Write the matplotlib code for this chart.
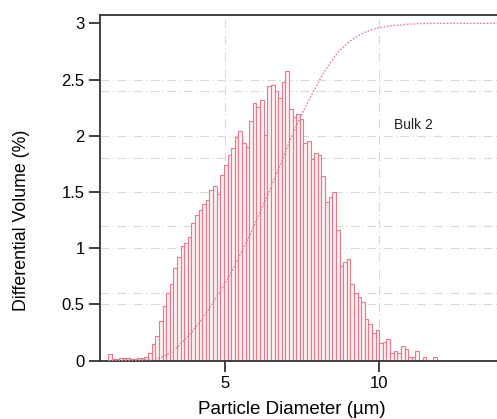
import numpy as np
import matplotlib
matplotlib.use("Agg")
import matplotlib.pyplot as plt

plt.rcParams['font.family'] = ['Liberation Sans', 'DejaVu Sans']

# ---- data ----
bin_start = 1.2      # µm, left edge of first channel
bin_width = 0.1173   # µm
diff_volume = [0.06, 0.012, 0.018, 0.02, 0.02, 0.02, 0.018, 0.015, 0.022, 0.028,
               0.035, 0.065, 0.145, 0.22, 0.35, 0.49, 0.60, 0.68, 0.82, 0.92,
               1.02, 1.05, 1.10, 1.22, 1.30, 1.34, 1.39, 1.43, 1.52, 1.55,
               1.48, 1.65, 1.74, 1.83, 1.89, 1.99, 2.04, 1.94, 1.90, 2.13,
               2.29, 2.26, 2.32, 2.01, 2.44, 2.45, 2.40, 2.34, 2.48, 2.58,
               2.24, 2.17, 2.19, 2.15, 1.94, 1.95, 1.79, 1.85, 1.83, 1.64,
               1.41, 1.46, 1.50, 1.16, 0.84, 0.88, 0.90, 0.68, 0.60, 0.57,
               0.52, 0.37, 0.33, 0.25, 0.27, 0.16, 0.17, 0.19, 0.065, 0.09,
               0.07, 0.13, 0.10, 0.03, 0.035, 0.09, 0.01, 0.03, 0.0, 0.0,
               0.035]
cum_full_scale = 3.0   # cumulative 100 % drawn at this height
x_max = 13.82          # upper end of the measured size range shown
x_ticks = [5, 10]
y_ticks = [0, 0.5, 1, 1.5, 2, 2.5, 3]
y_tick_labels = ['0', '0.5', '1', '1.5', '2', '2.5', '3']
grid_left = [0.5, 1, 1.5, 2, 2.5]
grid_right = [0.6, 1.2, 1.8, 2.4]
label_text = "Bulk 2"

# ---- derived ----
vals = np.array(diff_volume)
n = len(vals)
lefts = bin_start + bin_width * np.arange(n)
centers = lefts + bin_width / 2
cum = np.concatenate([[0], np.cumsum(vals)]) / vals.sum() * cum_full_scale
cum_x = np.concatenate([[lefts[0]], lefts + bin_width])
cum = np.append(cum, cum[-1])
cum_x = np.append(cum_x, x_max)

W, H = 497, 419
fig = plt.figure(figsize=(W / 100, H / 100), dpi=100)
ax = fig.add_axes([100 / W, (H - 360.7) / H, 397 / W, (360.7 - 15) / H])

gls = (0, (8, 3, 1, 3))
for g in grid_left + grid_right:
    ax.axhline(g, color='#dadada', lw=0.8, ls=gls, zorder=0)
for g in x_ticks:
    ax.axvline(g, color='#dadada', lw=0.8, ls=gls, zorder=0)

ax.bar(centers, vals, width=bin_width, facecolor='#fdf0f2',
       edgecolor='#e47a8c', linewidth=0.8, zorder=2)
ax.plot(cum_x, cum, color='#e8809a', lw=1.0, ls=(0, (1.2, 1.2)), zorder=3,
        clip_on=True)

ax.text(11.1, 2.10, label_text, fontsize=10, ha='center', va='center', color='#222222')

ax.set_xlim(0.93, x_max)
ax.set_ylim(0, 3.074)
ax.set_xticks(x_ticks)
ax.set_yticks(y_ticks)
ax.set_yticklabels(y_tick_labels)
ax.tick_params(axis='both', direction='out', length=8, width=1.3, color='#333333',
               labelsize=12, pad=3)
for s in ['left', 'bottom', 'top']:
    ax.spines[s].set_color('#333333')
    ax.spines[s].set_linewidth(1.3)
ax.spines['right'].set_visible(False)

fig.text(292 / W, 1 - 409 / H, 'Particle Diameter (µm)', fontsize=13.5,
         ha='center', va='center')
fig.text(22 / W, 1 - 220 / H, 'Differential Volume (%)', fontsize=12.8,
         ha='center', va='center', rotation=90)

fig.savefig('out.png', dpi=100)
